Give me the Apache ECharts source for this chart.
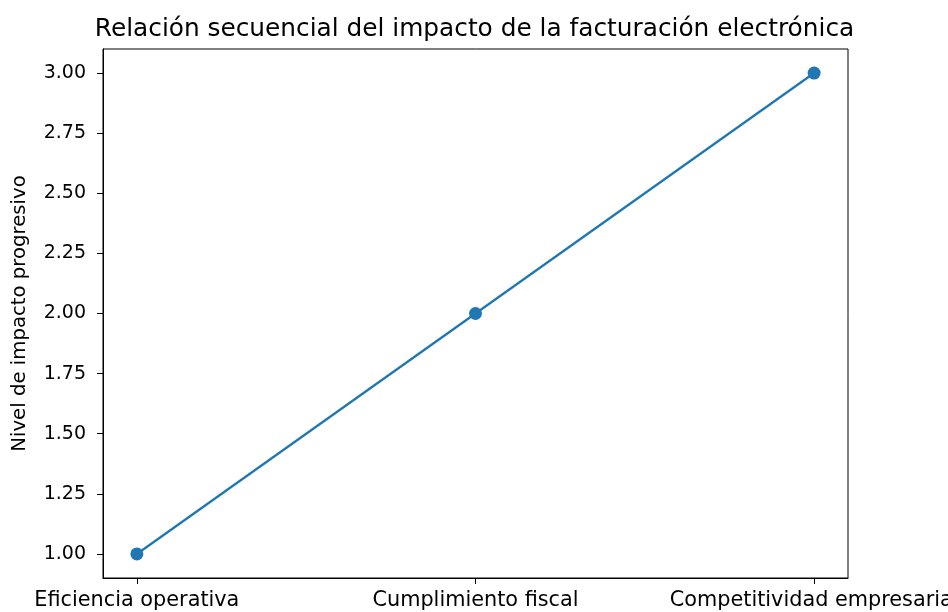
<!DOCTYPE html>
<html><head><meta charset="utf-8">
<script src="https://cdn.jsdelivr.net/npm/echarts@6/dist/echarts.min.js"></script>
<style>html,body{margin:0;padding:0;background:#fff}#c{width:948px;height:612px}</style>
</head><body><div id="c"></div>
<script>
const categories = ["Eficiencia operativa", "Cumplimiento fiscal", "Competitividad empresarial"];
const values = [1, 2, 3];
const yTicks = [1.00, 1.25, 1.50, 1.75, 2.00, 2.25, 2.50, 2.75, 3.00];
const xTicks = [0, 1, 2];

const font = "DejaVu Sans";
const chart = echarts.init(document.getElementById('c'), null, {renderer: 'canvas'});
chart.setOption({
  animation: false,
  backgroundColor: '#fff',
  title: {
    text: 'Relación secuencial del impacto de la facturación electrónica',
    left: 469.5, textAlign: 'center', top: 12,
    textStyle: {fontFamily: font, fontSize: 24.8, fontWeight: 'normal', color: '#000'}
  },
  grid: {left: 103, right: 100, top: 49, bottom: 34, containLabel: false, outerBoundsMode: 'none', show: true, borderColor: '#000', borderWidth: 1, backgroundColor: 'transparent'},
  xAxis: {
    type: 'value', min: -0.1, max: 2.1,
    splitLine: {show: false},
    axisLine: {show: true, onZero: false, lineStyle: {color: '#000', width: 1}},
    axisTick: {show: true, inside: false, length: 6, customValues: xTicks, lineStyle: {color: '#000'}},
    axisLabel: {customValues: xTicks, formatter: v => categories[Math.round(v)], color: '#000', fontFamily: font, fontSize: 20.8, margin: 12, hideOverlap: false, showMinLabel: true, showMaxLabel: true}
  },
  yAxis: {
    type: 'value', min: 0.9, max: 3.1,
    name: 'Nivel de impacto progresivo', nameLocation: 'middle', nameGap: 83, nameRotate: 90,
    nameTextStyle: {fontFamily: font, fontSize: 19.7, color: '#000', verticalAlign: 'middle'},
    splitLine: {show: false},
    axisLine: {show: true, onZero: false, lineStyle: {color: '#000', width: 1}},
    axisTick: {show: true, inside: false, length: 6, customValues: yTicks, lineStyle: {color: '#000'}},
    axisLabel: {customValues: yTicks, formatter: v => v.toFixed(2), color: '#000', fontFamily: font, fontSize: 19, margin: 17}
  },
  series: [{
    type: 'line',
    data: values.map((v, i) => [xTicks[i], v]),
    symbol: 'circle', symbolSize: 13,
    lineStyle: {color: '#1f77b4', width: 2.3},
    itemStyle: {color: '#1f77b4'}
  }]
});
</script></body></html>
